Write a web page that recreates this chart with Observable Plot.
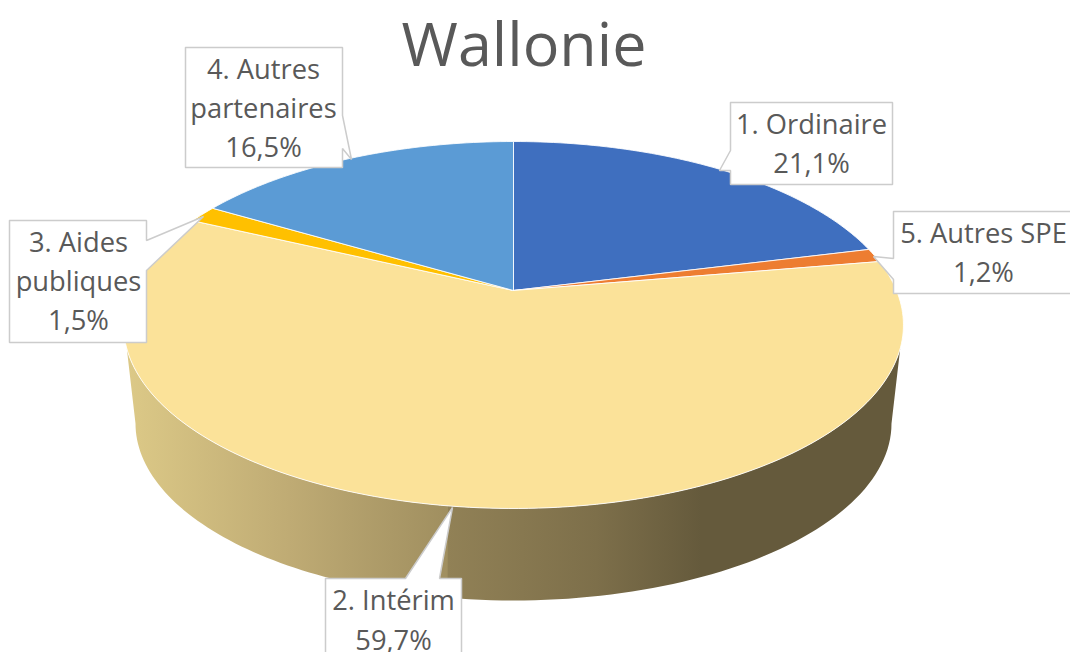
<!DOCTYPE html>
<html lang="fr">
<head>
<meta charset="utf-8">
<script src="https://cdn.jsdelivr.net/npm/d3@7"></script>
<script src="https://cdn.jsdelivr.net/npm/@observablehq/plot@0.6"></script>
<style>
html,body{margin:0;padding:0;background:#fff;overflow:hidden}
svg{display:block}
</style>
</head>
<body>
<div id="chart"></div>
<script>
// Data, clockwise from 12 o'clock
const categories = ["1. Ordinaire", "5. Autres SPE", "2. Intérim", "3. Aides publiques", "4. Autres partenaires"];
const shares = [21.1, 1.2, 59.7, 1.5, 16.5];
const sliceColors = ["#3F6FBF", "#ED7D31", "#FBE299", "#FFC000", "#5B9BD5"];
const labelLines = ["1. Ordinaire", "5. Autres SPE", "2. Intérim", "3. Aides\npubliques", "4. Autres\npartenaires"];
const titleText = "Wallonie";

// Layout of the perspective pie
const apex = {x: 513, y: 290}, radius = 383, depth = 177, tilt = 0.188;
const base = {x: 513, y: 423, a: 378, b: 177};
const wallSplitX = 447, wallOverlap = 6, wallTopY = 347;

// Callout outlines and text anchors (same order as categories)
const calloutOutlines = [
  [[730,102],[892,102],[892,184],[730,184],[730,170],[719,170],[730,150]],
  [[893,211],[1072,211],[1072,293],[893,293],[893,279],[873,256],[893,258]],
  [[325,578],[405,578],[452,507],[439,578],[461,578],[461,664],[325,664]],
  [[9,220],[146,220],[146,240],[203,216],[146,270],[146,342],[9,342]],
  [[185,47],[342,47],[342,115],[351,159],[342,148],[342,167],[185,167]]
];
const labelAnchors = [[811,140.5],[983,249.5],[393,617],[78,278],[263,105]];

const rim = t => {
  const w = 1 + tilt * Math.cos(t);
  return [apex.x + radius * Math.sin(t) / w, apex.y - depth * Math.cos(t) / w];
};

// Top-face slices
const slicePoints = [];
let acc = 0;
categories.forEach((c, i) => {
  const a0 = acc / 100 * 2 * Math.PI;
  acc += shares[i];
  const a1 = acc / 100 * 2 * Math.PI;
  const n = Math.max(4, Math.ceil(shares[i] * 3));
  const pts = [[apex.x, apex.y]];
  for (let k = 0; k <= n; k++) pts.push(rim(a0 + (a1 - a0) * k / n));
  pts.push([apex.x, apex.y]);
  pts.forEach(p => slicePoints.push({name: c, x: p[0], y: p[1]}));
});

// Side wall, split in two gradient pieces at the front (they overlap a little)
const rimAll = d3.range(0, 721).map(i => rim(i / 720 * 2 * Math.PI)).filter(p => p[1] >= wallTopY);
const rimRight = rimAll.filter(p => p[0] >= wallSplitX).sort((a, b) => b[0] - a[0]);
const rimLeft = rimAll.filter(p => p[0] <= wallSplitX + wallOverlap).sort((a, b) => a[0] - b[0]);
const baseAt = (from, to) => d3.range(0, 61).map(i => {
  const t = from + (to - from) * i / 60;
  return [base.x + base.a * Math.sin(t), base.y + base.b * Math.cos(t)];
});
const splitT = Math.asin((wallSplitX - base.x) / base.a);
const wallL = [...rimLeft, ...baseAt(splitT, -Math.PI / 2)].map(p => ({x: p[0], y: p[1]}));
const wallR = [...rimRight, ...baseAt(splitT, Math.PI / 2)].map(p => ({x: p[0], y: p[1]}));

const calloutPoints = calloutOutlines.flatMap((poly, i) =>
  [...poly, poly[0]].map(p => ({id: i, x: p[0], y: p[1]})));
const labels = categories.map((c, i) => ({
  text: labelLines[i] + "\n" + shares[i].toFixed(1).replace(".", ",") + "%",
  x: labelAnchors[i][0], y: labelAnchors[i][1]
}));

const gradient = (defs, id, stops) => {
  const g = defs.append("linearGradient").attr("id", id).attr("x1", 0).attr("x2", 1).attr("y1", 0).attr("y2", 0);
  stops.forEach(([o, c]) => g.append("stop").attr("offset", o).attr("stop-color", c));
};
const defsMark = () => {
  const defs = d3.create("svg:defs");
  gradient(defs, "wall-left", [[0, "#DCC987"], [0.5, "#BFAB74"], [1, "#9F8E5F"]]);
  gradient(defs, "wall-right", [[0, "#918156"], [0.33, "#7D6F4A"], [0.56, "#655A3C"], [1, "#655A3C"]]);
  return defs.node();
};

const chart = Plot.plot({
  width: 1070, height: 652,
  margin: 0,
  style: {background: "#fff", overflow: "hidden"},
  x: {domain: [0, 1070], range: [0, 1070], axis: null},
  y: {domain: [0, 652], range: [0, 652], axis: null},
  color: {domain: categories, range: sliceColors},
  marks: [
    defsMark,
    Plot.line(wallL, {x: "x", y: "y", fill: "url(#wall-left)", stroke: "none"}),
    Plot.line(wallR, {x: "x", y: "y", fill: "url(#wall-right)", stroke: "none"}),
    Plot.line(slicePoints, {x: "x", y: "y", z: "name", fill: "name", stroke: "#FFFFFF", strokeWidth: 1, strokeOpacity: 0.85, strokeLinejoin: "round"}),
    Plot.line(calloutPoints, {x: "x", y: "y", z: "id", fill: "#FFFFFF", stroke: "#CCCCCC", strokeWidth: 1.5, strokeLinejoin: "miter", curve: "linear"}),
    Plot.text(labels, {x: "x", y: "y", text: "text", fontSize: 27.3, lineHeight: 1.43, textAnchor: "middle", lineAnchor: "middle", fill: "#595959", fontFamily: "'Open Sans'"}),
    Plot.text([titleText], {x: () => 523.5, y: () => 46, text: d => d, fontSize: 61, textAnchor: "middle", lineAnchor: "middle", fill: "#595959", fontFamily: "'Open Sans'"})
  ]
});
document.getElementById("chart").append(chart);
</script>
</body>
</html>
